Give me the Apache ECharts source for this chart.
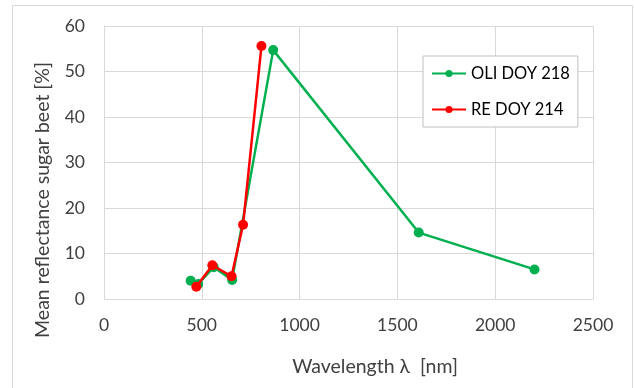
<!DOCTYPE html>
<html>
<head>
<meta charset="utf-8">
<script src="https://cdn.jsdelivr.net/npm/echarts@6/dist/echarts.min.js"></script>
<style>
  html, body { margin: 0; padding: 0; background: #fff; }
  #chart { width: 635px; height: 388px; }
</style>
</head>
<body>
<div id="chart"></div>
<script>
(function () {
  // wavelengths [nm] and mean reflectance [%]
  const oliWave = [443, 482, 561, 655, 865, 1609, 2201];
  const oliRefl = [4.0, 3.3, 7.0, 4.2, 54.7, 14.6, 6.5];
  const reWave = [472, 554, 652, 711, 805];
  const reRefl = [2.7, 7.4, 5.0, 16.3, 55.6];

  const xTicks = [0, 500, 1000, 1500, 2000, 2500];
  const yTicks = [0, 10, 20, 30, 40, 50, 60];

  const font = "Lato";
  const gridColor = "#d9d9d9";
  const textColor = "#404040";

  const myChart = echarts.init(document.getElementById("chart"), null, { renderer: "canvas" });

  const zip = (xs, ys) => xs.map((x, i) => [x, ys[i]]);

  const option = {
    animation: false,
    backgroundColor: "#fff",
    graphic: [
      // outer chart border
      {
        type: "rect",
        shape: { x: 12.5, y: 5.5, width: 620, height: 400 },
        style: { fill: "none", stroke: gridColor, lineWidth: 1 },
        silent: true,
        z: -1
      },
      // axis titles (Excel places them off the plot centre)
      {
        type: "text",
        x: 43,
        y: 200,
        rotation: Math.PI / 2,
        style: {
          text: "Mean reflectance sugar beet [%]",
          fontFamily: font, fontSize: 19.5, fill: textColor,
          align: "center", verticalAlign: "middle"
        },
        silent: true
      },
      {
        type: "text",
        x: 375,
        y: 367,
        style: {
          text: "Wavelength \u03bb  [nm]",
          fontFamily: font, fontSize: 19.5, fill: textColor,
          align: "center", verticalAlign: "middle"
        },
        silent: true
      }
    ],
    grid: { left: 104, right: 42, top: 26, bottom: 89 },
    legend: {
      orient: "vertical",
      left: 423,
      top: 56,
      backgroundColor: "#fff",
      borderColor: "#bfbfbf",
      borderWidth: 1,
      padding: [9, 8, 9, 8],
      itemWidth: 34,
      itemHeight: 9,
      itemGap: 19,
      textStyle: { fontFamily: font, fontSize: 16.5, color: "#000" },
      data: ["OLI DOY 218", "RE DOY 214"]
    },
    xAxis: {
      type: "value",
      min: xTicks[0],
      max: xTicks[xTicks.length - 1],
      interval: 500,
      axisLine: { show: true, lineStyle: { color: gridColor } },
      axisTick: { show: false },
      axisLabel: {
        fontFamily: font, fontSize: 17.5, color: textColor, margin: 17,
        formatter: v => String(v)
      },
      splitLine: { show: true, lineStyle: { color: gridColor } }
    },
    yAxis: {
      type: "value",
      min: yTicks[0],
      max: yTicks[yTicks.length - 1],
      interval: 10,
      axisLine: { show: true, lineStyle: { color: gridColor } },
      axisTick: { show: false },
      axisLabel: { fontFamily: font, fontSize: 17.5, color: textColor, margin: 19 },
      splitLine: { show: true, lineStyle: { color: gridColor } }
    },
    series: [
      {
        name: "OLI DOY 218",
        type: "line",
        data: zip(oliWave, oliRefl),
        symbol: "circle",
        symbolSize: 10,
        itemStyle: { color: "#00b050" },
        lineStyle: { color: "#00b050", width: 2.5 },
        z: 2
      },
      {
        name: "RE DOY 214",
        type: "line",
        data: zip(reWave, reRefl),
        symbol: "circle",
        symbolSize: 10,
        itemStyle: { color: "#ff0000" },
        lineStyle: { color: "#ff0000", width: 2.5 },
        z: 3
      }
    ]
  };

  myChart.setOption(option);
})();
</script>
</body>
</html>
